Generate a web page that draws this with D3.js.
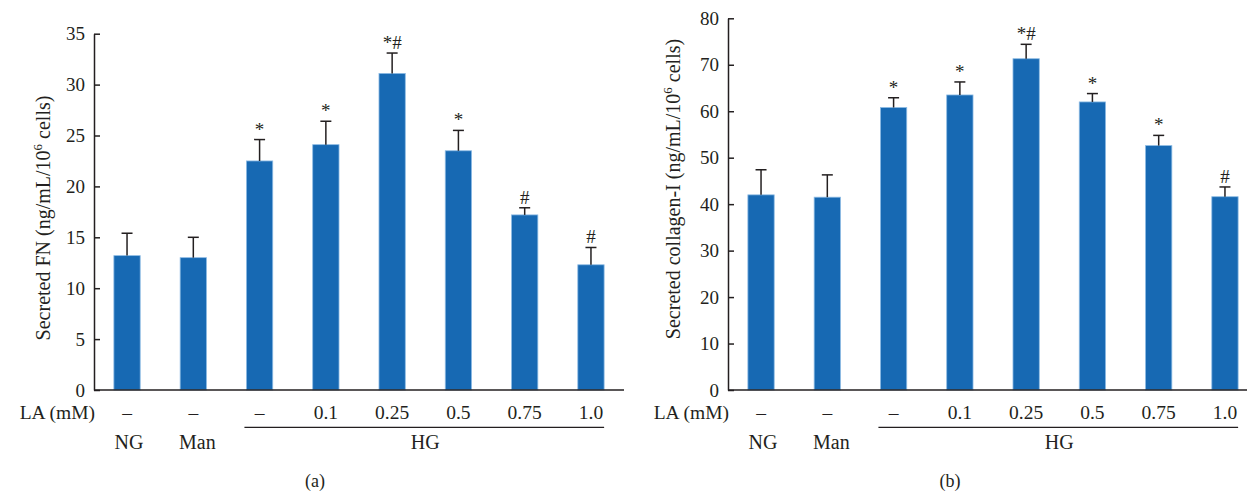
<!DOCTYPE html>
<html><head><meta charset="utf-8">
<script src="https://cdn.jsdelivr.net/npm/d3@7"></script>
<style>
body{margin:0;background:#fff;}
text{font-family:"Liberation Serif","DejaVu Serif",serif;fill:#231f20;}
</style></head>
<body><svg id="c" width="1247" height="492"></svg>
<script>
const categories = ["NG","Man","HG","HG-0.1","HG-0.25","HG-0.5","HG-0.75","HG-1.0"];
const laLabels = ["–","–","–","0.1","0.25","0.5","0.75","1.0"];
const fnValues = [13.2, 13.0, 22.5, 24.1, 31.1, 23.5, 17.2, 12.3];
const fnErrTop = [15.4, 15.0, 24.6, 26.4, 33.1, 25.5, 17.9, 14.0];
const fnMarks  = ["", "", "*", "*", "*#", "*", "#", "#"];
const fnTicks  = [0,5,10,15,20,25,30,35];
const colValues = [42.0, 41.5, 60.8, 63.5, 71.3, 62.0, 52.6, 41.6];
const colErrTop = [47.4, 46.3, 62.9, 66.3, 74.4, 63.8, 54.8, 43.7];
const colMarks  = ["", "", "*", "*", "*#", "*", "*", "#"];
const colTicks  = [0,10,20,30,40,50,60,70,80];

const svg = d3.select("#c");
const BAR = "#1769b3", INK = "#231f20";

function panel(o){
  const g = svg.append("g");
  const x = d3.scaleBand().domain(categories).range([o.x0, o.x0+530]).paddingInner(0.603).paddingOuter(0.3);
  const y = d3.scaleLinear().domain([0, o.max]).range([390, o.yTop]);
  const cx = d => x(d)+x.bandwidth()/2;
  g.selectAll("rect.bar").data(categories).join("rect")
    .attr("x", d => x(d)).attr("width", x.bandwidth())
    .attr("y", (d,i) => y(o.values[i])).attr("height", (d,i) => 390 - y(o.values[i]))
    .attr("fill", BAR).attr("stroke", "#8dbbe4").attr("stroke-width", 0.8);
  const eb = g.selectAll("g.err").data(categories).join("g");
  eb.append("line").attr("x1", cx).attr("x2", cx)
    .attr("y1", (d,i) => y(o.values[i])).attr("y2", (d,i) => y(o.err[i]))
    .attr("stroke", INK).attr("stroke-width", 1.5);
  eb.append("line").attr("x1", d => cx(d)-5.5).attr("x2", d => cx(d)+5.5)
    .attr("y1", (d,i) => y(o.err[i])).attr("y2", (d,i) => y(o.err[i]))
    .attr("stroke", INK).attr("stroke-width", 1.5);
  g.selectAll("text.mark").data(categories).join("text")
    .attr("x", cx).attr("y", (d,i) => y(o.err[i]) - 4)
    .attr("text-anchor","middle").attr("font-size", 19)
    .text((d,i) => o.marks[i]);
  const ya = d3.axisLeft(y).tickValues(o.ticks).tickSizeInner(-6).tickSizeOuter(0).tickPadding(9);
  const ag = g.append("g").attr("transform", `translate(${o.x0},0)`).call(ya);
  ag.select(".domain").attr("stroke", INK).attr("stroke-width", 1.5);
  ag.selectAll(".tick line").attr("stroke", INK).attr("stroke-width", 1.5);
  ag.selectAll(".tick text").attr("font-size", 19).attr("font-family", '"Liberation Serif",serif').attr("fill", INK);
  g.append("line").attr("x1", o.x0).attr("x2", o.x0+530).attr("y1", 390).attr("y2", 390)
    .attr("stroke", INK).attr("stroke-width", 1.5);
  g.append("text").attr("x", o.x0+1).attr("y", 419).attr("text-anchor","end").attr("font-size", 19.5).text("LA (mM)");
  g.selectAll("text.la").data(categories).join("text")
    .attr("x", cx).attr("y", 419).attr("text-anchor","middle").attr("font-size", 19.5)
    .text((d,i) => laLabels[i]);
  const hgStart = x(categories[2]) - 2, hgEnd = x(categories[7]) + x.bandwidth();
  g.append("line").attr("x1", hgStart).attr("x2", hgEnd).attr("y1", 427.3).attr("y2", 427.3)
    .attr("stroke", INK).attr("stroke-width", 1.3);
  g.append("text").attr("x", cx("NG")+2).attr("y", 449).attr("text-anchor","middle").attr("font-size", 20).text("NG");
  g.append("text").attr("x", cx("Man")+4).attr("y", 449).attr("text-anchor","middle").attr("font-size", 20).text("Man");
  g.append("text").attr("x", (cx("HG-0.25")+cx("HG-0.5"))/2).attr("y", 449).attr("text-anchor","middle").attr("font-size", 20).text("HG");
  const t = g.append("text").attr("transform", `translate(${o.titleX},${o.titleY}) rotate(-90)`)
    .attr("text-anchor","middle").attr("font-size", 20);
  t.append("tspan").text(o.title);
  t.append("tspan").attr("dy", -8).attr("font-size", 13).text("6");
  t.append("tspan").attr("dy", 8).text(" cells)");
  g.append("text").attr("x", o.labelX).attr("y", 487).attr("text-anchor","middle").attr("font-size", 18).text(o.label);
}

panel({x0:94, yTop:33.7, max:35, values:fnValues, err:fnErrTop, marks:fnMarks, ticks:fnTicks,
  title:"Secreted FN (ng/mL/10", titleX:50, titleY:218, label:"(a)", labelX:315});
panel({x0:728, yTop:18.3, max:80, values:colValues, err:colErrTop, marks:colMarks, ticks:colTicks,
  title:"Secreted collagen-I (ng/mL/10", titleX:680, titleY:189, label:"(b)", labelX:950});
</script></body></html>
